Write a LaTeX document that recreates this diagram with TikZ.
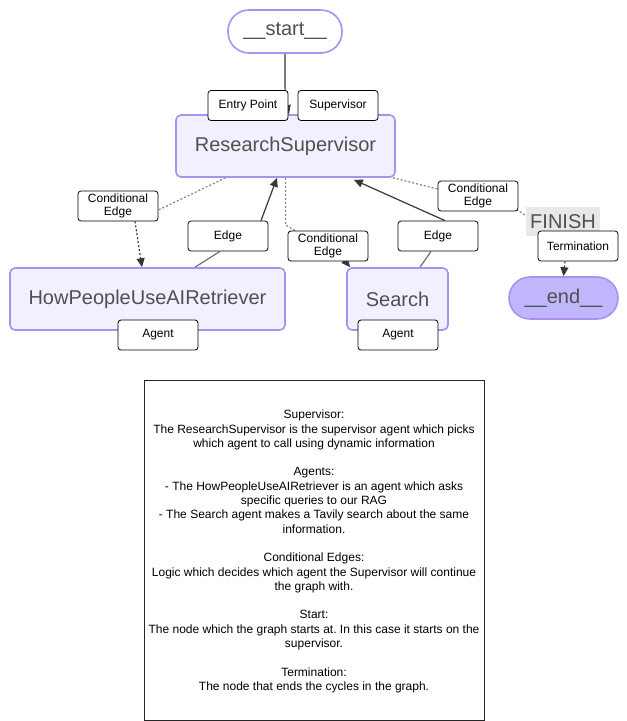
\documentclass[tikz,border=0pt]{standalone}
\usepackage{fontspec}
\setmainfont{Liberation Sans}
\usetikzlibrary{arrows.meta,calc}
\definecolor{nodeborder}{RGB}{172,144,240}
\definecolor{nodefill}{RGB}{242,240,255}
\definecolor{endfill}{RGB}{191,182,252}
\definecolor{nodetext}{RGB}{80,80,80}
\definecolor{edgecol}{RGB}{110,110,110}
\definecolor{tipcol}{RGB}{55,55,55}
\definecolor{finishbg}{RGB}{232,232,232}
\pgfdeclarelayer{edges}
\pgfsetlayers{edges,main}
\frenchspacing
\tikzset{
  graphnode/.style={draw=nodeborder, line width=1.6pt, fill=nodefill, rounded corners=5pt,
    inner sep=0pt, text=nodetext, font=\fontsize{20}{24}\selectfont},
  terminal/.style={draw=nodeborder, line width=1.6pt, rounded corners=21pt,
    inner sep=0pt, text=nodetext, font=\fontsize{20}{24}\selectfont},
  tag/.style={draw=black, line width=0.8pt, fill=white, rounded corners=3pt,
    minimum width=80pt, minimum height=30pt, inner sep=0pt, align=center,
    font=\fontsize{12}{13.5}\selectfont},
  solidedge/.style={draw=edgecol, line width=1.2pt},
  dottededge/.style={draw=edgecol!85, line width=1.2pt, dash pattern=on 2pt off 2pt},
  tip/.style={-{Triangle[length=9pt,width=8pt,fill=tipcol]}, tipcol},
}
\begin{document}
\begin{tikzpicture}[x=1pt,y=-1pt]
\useasboundingbox (0,0) rectangle (627,721);
% main nodes
\node[terminal, fill=white, minimum width=114pt, minimum height=43pt] (start) at (285,31.5) {\_\_start\_\_};
\node[graphnode, minimum width=219pt, minimum height=62pt] (rs) at (285.5,146) {ResearchSupervisor};
\node[graphnode, minimum width=275pt, minimum height=62pt] (hpu) at (147.5,299) {HowPeopleUseAIRetriever};
\node[graphnode, minimum width=101pt, minimum height=62pt] (search) at (397.5,299) {Search};
\node[terminal, fill=endfill, minimum width=109pt, minimum height=42pt] (end) at (563.5,298) {\_\_end\_\_};
\node[fill=finishbg, minimum width=74pt, minimum height=29pt, inner sep=0pt, text=nodetext,
  font=\fontsize{20}{24}\selectfont] (finish) at (563,221.5) {FINISH};
% labels
\node[tag] (entry) at (248,105.5) {Entry Point};
\node[tag] (sup) at (338,105.5) {Supervisor};
\node[tag] (ceL) at (118,206) {Conditional\\Edge};
\node[tag] (edgeL) at (228,236) {Edge};
\node[tag] (ceM) at (328,246) {Conditional\\Edge};
\node[tag] (edgeR) at (438,236) {Edge};
\node[tag] (ceR) at (478,196) {Conditional\\Edge};
\node[tag] (term) at (578,246) {Termination};
\node[tag] (agentL) at (158,335) {Agent};
\node[tag] (agentR) at (398,335) {Agent};
% connectors
\begin{pgfonlayer}{edges}
\draw[solidedge, tip] (start.south) .. controls ($(start.south)+(0,45)$) .. ($(rs.north)+(3.5,0)$);
% RS -> HowPeopleUseAIRetriever (conditional)
\draw[dottededge] ($(rs.south)+(-60,0)$) -- ($(ceL.east)+(0,4)$);
\draw[dottededge, tip] ($(ceL.south)+(17,0)$) .. controls ($(ceL.south)+(20,20)$) .. ($(hpu.north)+(-5.5,0)$);
% HowPeopleUseAIRetriever -> RS
\draw[solidedge] ($(hpu.north)+(47.5,0)$) -- ($(edgeL.south)+(-8,0)$);
\draw[solidedge, tip] ($(edgeL.north)+(33,0)$) -- ($(rs.south)+(-8.5,0)$);
% RS -> Search (conditional)
\draw[dottededge] (rs.south) -- ($(rs.south)+(0,47)$) -- ($(ceM.north)+(-33,0)$);
\draw[dottededge, tip] ($(ceM.south)+(15,-3)$) -- ($(search.north west)+(4,0)$);
% Search -> RS
\draw[solidedge] ($(search.north)+(22.5,0)$) -- ($(edgeR.south)+(-7,0)$);
\draw[solidedge, tip] ($(edgeR.north)+(7,0)$) -- ($(rs.south east)+(-42,2)$);
% RS -> FINISH (conditional)
\draw[dottededge] ($(rs.south east)+(-3,0)$) -- ($(ceR.west)+(0,-7)$);
\draw[dottededge] ($(ceR.south east)+(-2,-2)$) -- ($(finish.west)+(0,-6)$);
% Termination -> end
\draw[dottededge, tip] ($(term.south)+(-13,0)$) -- ($(end.north)+(0,0)$);
\end{pgfonlayer}
% legend box
\node[draw=black!85, line width=1pt, minimum width=340pt, minimum height=340pt, inner sep=0pt] (legendbox) at (314,550) {};
\node[align=center, font=\fontsize{12}{14.3}\selectfont, inner sep=0pt] (legend) at (314,551.5) {%
Supervisor:\\
The ResearchSupervisor is the supervisor agent which picks\\
which agent to call using dynamic information\\[14.3pt]
Agents:\\
- The HowPeopleUseAIRetriever is an agent which asks\\
specific queries to our RAG\\
- The Search agent makes a Tavily search about the same\\
information.\\[14.3pt]
Conditional Edges:\\
Logic which decides which agent the Supervisor will continue\\
the graph with.\\[14.3pt]
Start:\\
The node which the graph starts at. In this case it starts on the\\
supervisor.\\[14.3pt]
Termination:\\
The node that ends the cycles in the graph.};
\end{tikzpicture}
\end{document}
